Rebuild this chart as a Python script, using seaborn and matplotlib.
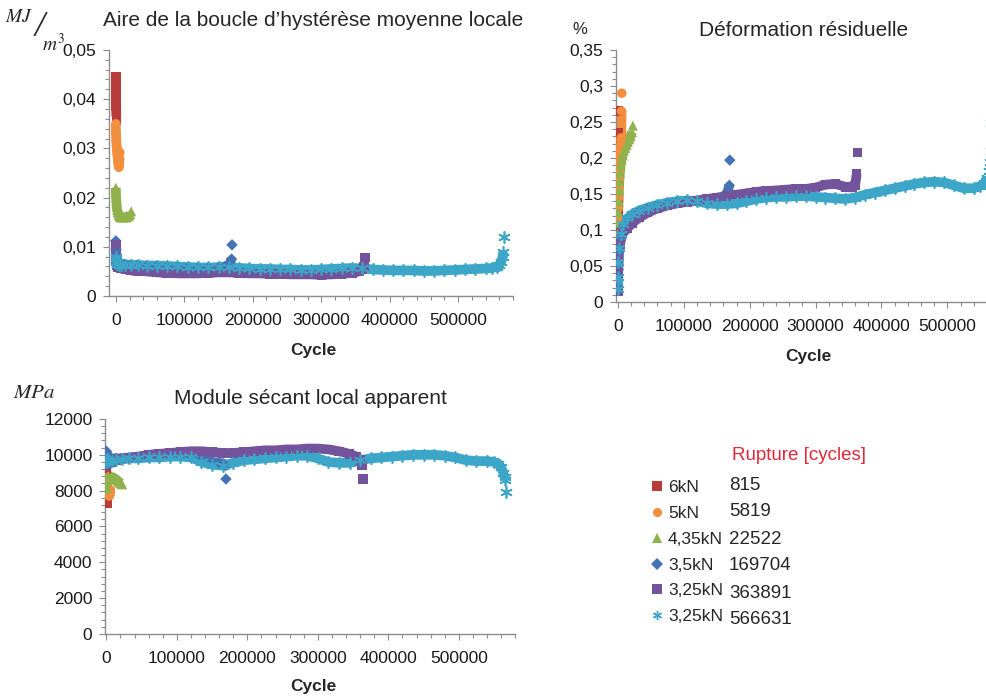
import seaborn as sns
import matplotlib.pyplot as plt
from matplotlib.lines import Line2D
from matplotlib.ticker import MultipleLocator, FuncFormatter

# ---- data -----------------------------------------------------------------
LOADS = ["6kN", "5kN", "4,35kN", "3,5kN", "3,25kN", "3,25kN"]
RUPTURE = ["815", "5819", "22522", "169704", "363891", "566631"]

cyc_6kN = [0, 90, 180, 270, 360, 450, 540, 630, 720, 815]
cyc_5kN = [0, 300, 700, 1100, 1500, 2000, 2500, 3000, 3500, 4000, 4500, 5000, 5400, 5819]
cyc_435kN = [0, 200, 500, 900, 1400, 2000, 3000, 4000, 5500, 7000, 9000, 11000, 13000,
             15000, 17000, 19000, 21000, 22522]
cyc_35kN = [0, 300, 1000, 3000, 7000, 14000, 22000, 32000, 45000, 60000, 75000, 90000,
            105000, 120000, 135000, 150000, 160000, 166000, 169000, 169704]
cyc_325kN_a = [0, 300, 1000, 3000, 7000, 14000, 22000, 32000, 45000, 60000, 75000, 90000,
               105000, 120000, 135000, 150000, 165000, 180000, 195000, 210000, 225000,
               240000, 255000, 270000, 285000, 300000, 315000, 330000, 345000, 355000,
               360000, 362500, 363891]
cyc_325kN_b = [0, 200, 600, 1500, 4000, 8000, 14000, 22000, 32000, 45000, 60000, 75000,
               90000, 105000, 120000, 135000, 150000, 165000, 180000, 195000, 210000,
               225000, 240000, 255000, 270000, 285000, 300000, 315000, 330000, 345000,
               360000, 375000, 390000, 405000, 420000, 435000, 450000, 465000, 480000,
               495000, 510000, 525000, 540000, 550000, 556000, 560000, 563000, 565000,
               566000, 566631]

# hysteresis loop area [MJ/m3]
aire_6kN = [0.0445, 0.0435, 0.0425, 0.0415, 0.0405, 0.0395, 0.0385, 0.0375, 0.0365, 0.0360]
aire_5kN = [0.035, 0.033, 0.0315, 0.0305, 0.030, 0.0292, 0.0285, 0.0278, 0.027, 0.0265,
            0.0262, 0.027, 0.028, 0.0292]
aire_435kN = [0.022, 0.021, 0.020, 0.019, 0.0182, 0.0175, 0.017, 0.0165, 0.0162, 0.016,
              0.016, 0.016, 0.016, 0.016, 0.0161, 0.0163, 0.0166, 0.0172]
aire_35kN = [0.0112, 0.0095, 0.0075, 0.0068, 0.0066, 0.0064, 0.0063, 0.0062, 0.0061, 0.006,
             0.0059, 0.0058, 0.0057, 0.0057, 0.0057, 0.0058, 0.006, 0.0064, 0.0075, 0.0104]
aire_325kN_a = [0.0105, 0.007, 0.0062, 0.0058, 0.0056, 0.0054, 0.0052, 0.0051, 0.005, 0.0048,
                0.0047, 0.0046, 0.0046, 0.0046, 0.0047, 0.0048, 0.0048, 0.0047, 0.0046,
                0.0046, 0.0045, 0.0045, 0.0044, 0.0044, 0.0044, 0.0043, 0.0044, 0.0045,
                0.0047, 0.005, 0.0055, 0.006, 0.0078]
aire_325kN_b = [0.008, 0.0075, 0.007, 0.0066, 0.0064, 0.0063, 0.0063, 0.0063, 0.0063, 0.0062,
                0.0062, 0.0061, 0.006, 0.0059, 0.0058, 0.0058, 0.0058, 0.0058, 0.0057,
                0.0056, 0.0055, 0.0055, 0.0054, 0.0054, 0.0053, 0.0053, 0.0054, 0.0055,
                0.0056, 0.0057, 0.0056, 0.0054, 0.0053, 0.0052, 0.0052, 0.0052, 0.0051,
                0.0051, 0.0052, 0.0053, 0.0054, 0.0055, 0.0056, 0.0057, 0.0059, 0.0063,
                0.007, 0.008, 0.009, 0.012]

# residual strain [%]
deform_6kN = [0.085, 0.105, 0.125, 0.145, 0.165, 0.185, 0.205, 0.225, 0.235, 0.265]
deform_5kN = [0.115, 0.13, 0.145, 0.16, 0.172, 0.183, 0.193, 0.202, 0.21, 0.218, 0.225,
              0.228, 0.265, 0.29]
deform_435kN = [0.095, 0.11, 0.125, 0.14, 0.155, 0.168, 0.18, 0.19, 0.198, 0.204, 0.21,
                0.214, 0.218, 0.222, 0.226, 0.23, 0.236, 0.245]
deform_35kN = [0.02, 0.045, 0.07, 0.09, 0.104, 0.114, 0.12, 0.125, 0.13, 0.134, 0.137,
               0.139, 0.14, 0.14, 0.139, 0.141, 0.146, 0.152, 0.162, 0.197]
deform_325kN_a = [0.015, 0.04, 0.06, 0.08, 0.095, 0.102, 0.11, 0.117, 0.124, 0.13, 0.134,
                  0.137, 0.139, 0.141, 0.143, 0.145, 0.147, 0.149, 0.151, 0.153, 0.154,
                  0.155, 0.156, 0.157, 0.157, 0.159, 0.163, 0.164, 0.16, 0.159, 0.162,
                  0.178, 0.208]
deform_325kN_b = [0.018, 0.035, 0.055, 0.075, 0.095, 0.108, 0.116, 0.122, 0.127, 0.131,
                  0.135, 0.138, 0.14, 0.141, 0.14, 0.137, 0.136, 0.136, 0.137, 0.14, 0.143,
                  0.145, 0.146, 0.146, 0.147, 0.147, 0.146, 0.145, 0.144, 0.143, 0.145,
                  0.149, 0.152, 0.155, 0.158, 0.161, 0.164, 0.166, 0.167, 0.166, 0.162,
                  0.158, 0.158, 0.161, 0.165, 0.172, 0.182, 0.195, 0.21, 0.248]

# apparent secant modulus [MPa]
module_6kN = [9300, 9100, 8900, 8700, 8500, 8300, 8100, 7900, 7600, 7300]
module_5kN = [8700, 8500, 8350, 8200, 8100, 8000, 7900, 7800, 7750, 7700, 7750, 7850, 7950, 8050]
module_435kN = [8100, 8300, 8500, 8650, 8750, 8800, 8800, 8750, 8700, 8700, 8750, 8700,
                8650, 8600, 8500, 8450, 8400, 8350]
module_35kN = [10200, 10100, 9950, 9850, 9800, 9800, 9800, 9800, 9850, 9900, 9900, 9950,
               9950, 9900, 9750, 9600, 9550, 9500, 9400, 8650]
module_325kN_a = [9400, 9450, 9500, 9550, 9600, 9700, 9800, 9850, 9900, 10000, 10050, 10100,
                  10150, 10200, 10200, 10150, 10100, 10100, 10150, 10200, 10250, 10250,
                  10300, 10300, 10350, 10350, 10300, 10200, 10050, 9900, 9700, 9400, 8650]
module_325kN_b = [9600, 9700, 9750, 9700, 9650, 9650, 9700, 9750, 9800, 9800, 9850, 9850,
                  9900, 9900, 9850, 9600, 9450, 9400, 9550, 9700, 9750, 9800, 9850, 9900,
                  9950, 9950, 9800, 9600, 9550, 9550, 9700, 9800, 9850, 9900, 9950, 10000,
                  10000, 10000, 9950, 9850, 9700, 9650, 9650, 9600, 9500, 9300, 9000, 8750,
                  8600, 7950]

# ---- style ------------------------------------------------------------------
COLORS = ["#B83C3A", "#F28E3C", "#8FB24C", "#4472B4", "#73549C", "#3CA6C8"]
ASTERISK = (6, 2, 0)
MARKERS = ["s", "o", "^", "D", "s", ASTERISK]
SIZES = [46, 46, 52, 34, 46, 66]
AXIS_GREY = "#8C8C8C"

sns.set_style("white")
plt.rcParams["font.family"] = ["Liberation Sans", "DejaVu Sans"]
plt.rcParams["mathtext.fontset"] = "stix"

CYCLES = [cyc_6kN, cyc_5kN, cyc_435kN, cyc_35kN, cyc_325kN_a, cyc_325kN_b]


def comma(v, pos):
    return f"{round(v, 6):g}".replace(".", ",")


def panel(ax, values, ymax, ymajor, yminor):
    for cyc, vals, col, mk, size in zip(CYCLES, values, COLORS, MARKERS, SIZES):
        # dense runs of markers in the original -> thick line under the markers,
        # last point (rupture) stays on its own
        sns.lineplot(x=cyc[:-1], y=vals[:-1], ax=ax, color=col, lw=7, sort=False,
                     estimator=None, legend=False, zorder=2, solid_capstyle="butt")
        if mk == ASTERISK:
            kw = dict(linewidth=1.2)
        else:
            kw = dict(linewidth=0, edgecolor="none")
        sns.scatterplot(x=cyc, y=vals, ax=ax, marker=mk, color=col, s=size,
                        legend=False, zorder=3, **kw)
    ax.set_ylim(0, ymax)
    ax.yaxis.set_major_locator(MultipleLocator(ymajor))
    ax.yaxis.set_minor_locator(MultipleLocator(yminor))
    ax.xaxis.set_major_locator(MultipleLocator(100000))
    ax.xaxis.set_minor_locator(MultipleLocator(20000))
    ax.xaxis.set_major_formatter(FuncFormatter(comma))
    ax.yaxis.set_major_formatter(FuncFormatter(comma))
    for side in ["top", "right"]:
        ax.spines[side].set_visible(False)
    for side in ["left", "bottom"]:
        ax.spines[side].set_color(AXIS_GREY)
        ax.spines[side].set_linewidth(1.0)
    ax.tick_params(which="both", direction="out", color=AXIS_GREY, width=0.8,
                   labelsize=12.5, labelcolor="#1A1A1A", bottom=True, left=True)
    ax.tick_params(which="major", length=4)
    ax.tick_params(which="minor", length=3)
    ax.tick_params(axis="x", pad=8)
    ax.tick_params(axis="y", pad=5)
    ax.set_xlabel("")
    ax.set_ylabel("")


W, H = 987, 697


def fx(px):
    return px / W


def fy(py):
    return 1 - py / H


fig = plt.figure(figsize=(9.87, 6.97), dpi=100)
ax1 = fig.add_axes([0.1104, 0.5753, 0.4093, 0.3530])
ax2 = fig.add_axes([0.6241, 0.5667, 0.3891, 0.3616])
ax3 = fig.add_axes([0.1063, 0.0904, 0.4157, 0.3085])

panel(ax1, [aire_6kN, aire_5kN, aire_435kN, aire_35kN, aire_325kN_a, aire_325kN_b],
      0.05, 0.01, 0.002)
ax1.set_xlim(-10000, 580000)
panel(ax2, [deform_6kN, deform_5kN, deform_435kN, deform_35kN, deform_325kN_a, deform_325kN_b],
      0.35, 0.05, 0.01)
ax2.set_xlim(-3000, 580000)
panel(ax3, [module_6kN, module_5kN, module_435kN, module_35kN, module_325kN_a, module_325kN_b],
      12000, 2000, 400)
ax3.set_xlim(-2000, 580000)

# titles
fig.text(fx(313), fy(21), "Aire de la boucle d\u2019hystérèse moyenne locale", fontsize=15,
         ha="center", va="center")
fig.text(fx(804), fy(31), "Déformation résiduelle", fontsize=15, ha="center", va="center")
fig.text(fx(310), fy(398), "Module sécant local apparent", fontsize=15, ha="center", va="center")

# axis titles
for x, y in [(313, 350), (808, 356), (313, 686)]:
    fig.text(fx(x), fy(y), "Cycle", fontsize=12.5, fontweight="bold", ha="center", va="center")

# units
fig.text(fx(19), fy(18), r"$MJ$", fontsize=14, ha="center", va="center")
fig.text(fx(40), fy(28), "/", fontsize=26, ha="center", va="center",
         family="Liberation Serif", style="italic")
fig.text(fx(54), fy(44), r"$m^3$", fontsize=14, ha="center", va="center")
fig.text(fx(580), fy(29), "%", fontsize=12, ha="center", va="center")
fig.text(fx(34), fy(393), r"$MPa$", fontsize=15, ha="center", va="center")

# legend
handles = [Line2D([], [], marker=m, color=c, linestyle="none", markersize=6.5,
                  markeredgewidth=1.0 if m == ASTERISK else 0)
           for m, c in zip(MARKERS, COLORS)]
fig.legend(handles, LOADS, loc="upper left", bbox_to_anchor=(fx(653), fy(480)),
           frameon=False, fontsize=12.5, handlelength=0.5, handletextpad=0.36,
           labelspacing=0.615, borderpad=0, borderaxespad=0, labelcolor="#262626")
fig.text(fx(732), fy(456), "Rupture [cycles]", fontsize=13.5, color="#E2283A",
         ha="left", va="center")
for i, r in enumerate(RUPTURE):
    fig.text(fx(729), fy(485 + i * 27), r, fontsize=13.5, ha="left", va="center")

fig.savefig("out.png", dpi=100)
